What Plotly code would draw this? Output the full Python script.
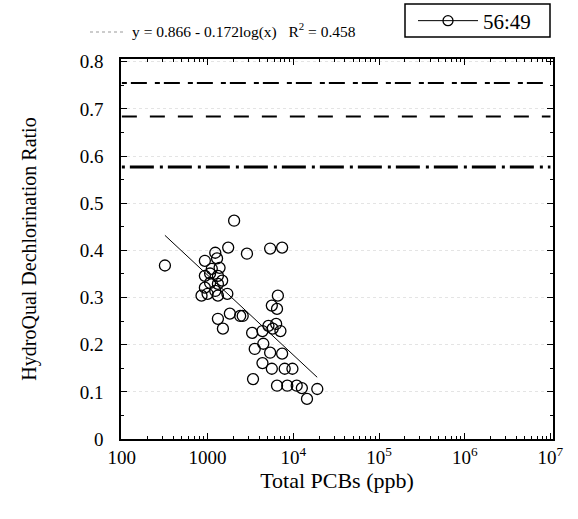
import plotly.graph_objects as go

# ---- data ----
pcb_total = [318, 2040, 1740, 1230, 2880, 1290, 930, 5370, 7410,
             930, 1120, 1380, 1070, 1320, 1070, 1320, 930, 1480, 1230, 1000, 1320, 1700, 850,
             6610, 5620, 1820, 2400, 1320, 1510, 3310, 6460, 2570,
             5750, 5130, 7080, 6310, 4370, 3550, 4470, 5370, 7410, 4370, 5620, 7940, 9770,
             3390, 6460, 8510, 10960, 12590, 19050, 14450]
ratio_5649 = [0.368, 0.463, 0.406, 0.395, 0.393, 0.383, 0.378, 0.404, 0.406,
              0.346, 0.361, 0.363, 0.351, 0.346, 0.331, 0.329, 0.321, 0.336, 0.314, 0.308, 0.304, 0.308, 0.304,
              0.304, 0.283, 0.266, 0.261, 0.255, 0.234, 0.225, 0.276, 0.261,
              0.234, 0.240, 0.229, 0.244, 0.229, 0.191, 0.202, 0.183, 0.181, 0.161, 0.149, 0.149, 0.149,
              0.127, 0.113, 0.113, 0.113, 0.108, 0.106, 0.085]

fit_x = [318, 19000]
fit_y = [0.432, 0.131]

ref_x = [100, 1e7]
ref_upper = [0.755, 0.755]
ref_middle = [0.684, 0.684]
ref_lower = [0.577, 0.577]

x_tick_vals = [100, 1000, 1e4, 1e5, 1e6, 1e7]
x_tick_text = ["100", "1000", "10<sup>4</sup>", "10<sup>5</sup>", "10<sup>6</sup>", "10<sup>7</sup>"]
y_tick_vals = [0, 0.1, 0.2, 0.3, 0.4, 0.5, 0.6, 0.7, 0.8]
y_tick_text = ["0", "0.1", "0.2", "0.3", "0.4", "0.5", "0.6", "0.7", "0.8"]

series_name = "56:49"
equation_text = "y = 0.866 - 0.172log(x)   R<sup>2</sup> = 0.458"

FONT = "Liberation Serif"

# plot-area pixel geometry (used only for placing paper-referenced decorations)
L, R, T, B = 121, 553, 59, 439
W, H = R - L, B - T


def px(x):
    return (x - L) / W


def py(y):
    return (B - y) / H


fig = go.Figure()

fig.add_trace(go.Scatter(x=ref_x, y=ref_upper, mode="lines", showlegend=False,
                         line=dict(color="black", width=2, dash="5px,4px,16px,8px")))
fig.add_trace(go.Scatter(x=ref_x, y=ref_middle, mode="lines", showlegend=False,
                         line=dict(color="black", width=2, dash="15px,13px")))
fig.add_trace(go.Scatter(x=ref_x, y=ref_lower, mode="lines", showlegend=False,
                         line=dict(color="black", width=3, dash="3px,5px,24px,6px")))

fig.add_trace(go.Scatter(x=fit_x, y=fit_y, mode="lines", showlegend=False,
                         line=dict(color="black", width=1)))

fig.add_trace(go.Scatter(x=pcb_total, y=ratio_5649, mode="markers", showlegend=False,
                         marker=dict(symbol="circle-open", size=11, color="black",
                                     line=dict(width=1.3, color="black"))))

# legend entry (line with open circle)
fig.add_trace(go.Scatter(x=[None], y=[None], mode="lines+markers", name=series_name,
                         line=dict(color="black", width=1),
                         marker=dict(symbol="circle-open", size=10, color="black",
                                     line=dict(width=1.3, color="black"))))

fig.update_layout(
    width=578, height=519,
    margin=dict(l=L, r=578 - R, t=T, b=519 - B, autoexpand=False),
    paper_bgcolor="white", plot_bgcolor="white",
    font=dict(family=FONT, color="black", size=18),
    showlegend=True,
    legend=dict(x=px(413), y=py(21), xanchor="left", yanchor="middle",
                bgcolor="rgba(0,0,0,0)", borderwidth=0,
                font=dict(family=FONT, size=21), itemwidth=60,
                tracegroupgap=0),
    xaxis=dict(type="log", range=[1.99, 7.03],
               tickvals=x_tick_vals, ticktext=x_tick_text,
               ticks="inside", ticklen=6, tickwidth=1, tickcolor="black",
               minor=dict(ticks="inside", ticklen=3, dtick="D1", tickcolor="black", showgrid=False),
               showline=True, linecolor="black", linewidth=1.5, mirror="ticks",
               showgrid=False, zeroline=False,
               tickfont=dict(family=FONT, size=19),
               title=dict(text="Total PCBs (ppb)", font=dict(family=FONT, size=22), standoff=0)),
    yaxis=dict(range=[0, 0.806],
               tickvals=y_tick_vals, ticktext=y_tick_text,
               ticks="inside", ticklen=6, tickwidth=1, tickcolor="black",
               minor=dict(ticks="inside", ticklen=3, dtick=0.05, tickcolor="black", showgrid=False),
               showline=True, linecolor="black", linewidth=1.5, mirror="ticks",
               showgrid=True, gridcolor="#e4e4e4", griddash="dot", gridwidth=1,
               zeroline=False, ticklabelstandoff=12,
               tickfont=dict(family=FONT, size=19),
               title=dict(text="HydroQual Dechlorination Ratio", font=dict(family=FONT, size=20), standoff=38)),
)

# legend frame
fig.add_shape(type="rect", xref="paper", yref="paper",
              x0=px(405), x1=px(550), y0=py(37), y1=py(4),
              line=dict(color="black", width=1.5), fillcolor="white", layer="below")

fig.add_annotation(text=equation_text, xref="paper", yref="paper",
                   x=px(130), y=py(31), xanchor="left", yanchor="middle",
                   showarrow=False, font=dict(family=FONT, size=15.5, color="black"))
fig.add_shape(type="line", xref="paper", yref="paper",
              x0=px(90), x1=px(123), y0=py(32), y1=py(32),
              line=dict(color="#999999", width=1, dash="dot"))

fig.write_html("out.html")
